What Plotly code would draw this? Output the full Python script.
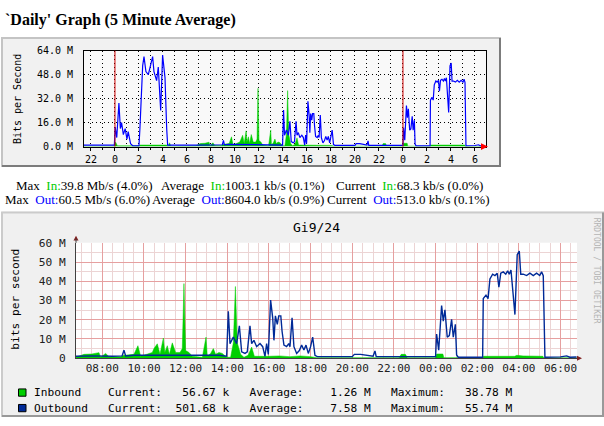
import plotly.graph_objects as go

W, H = 604, 426

# traffic samples; hours counted from midnight of the first day (24 = 00:00 next day)
out_hours = [21.42, 23.95, 24.02, 24.15, 24.33, 24.45, 24.55, 24.7, 24.85, 25.0, 25.1, 25.3, 25.5,
             26.0, 26.08, 26.31, 26.42, 26.58, 26.78, 26.97, 27.14, 27.25, 27.47, 27.61, 27.81,
             27.97, 28.17, 28.31, 28.39, 29.0, 29.5, 30.0, 30.72, 31.5, 32.5, 32.95, 33.04, 33.12,
             33.52, 33.84, 34.5, 35.5, 36.3, 37.0, 37.6, 37.97, 38.05, 38.13, 38.29, 38.45, 38.58,
             38.69, 38.85, 38.96, 39.09, 39.17, 39.28, 39.41, 39.57, 39.70, 39.81, 39.89, 39.97,
             40.08, 40.18, 40.24, 40.31, 40.40, 40.47, 40.57, 40.63, 40.72, 40.85, 40.95, 41.01,
             41.11, 41.20, 41.33, 41.46, 41.57, 41.68, 41.78, 41.89, 42.00, 42.10, 42.21, 42.32,
             44.0, 44.1, 44.4, 44.7, 45.0, 45.09, 45.15, 48.0, 48.05, 48.15, 48.29, 48.37, 48.45,
             48.56, 48.66, 48.77, 48.85, 48.95, 49.01, 49.09, 50.26, 50.29, 50.42, 50.52, 50.61,
             50.74, 50.85, 50.96, 51.04, 51.13, 51.25, 51.37, 51.46, 51.54, 51.62, 51.70, 51.81,
             51.92, 52.02, 52.09, 52.21, 52.37, 52.53, 52.69, 52.85, 53.00, 53.09, 53.17, 53.25,
             54.0, 54.29, 54.45, 54.77]
out_mbps = [1.0, 1.0, 13, 6, 29, 12, 16, 8, 12, 5, 10, 2, 0.5,
            0.5, 12, 54, 60, 50, 48, 55, 60, 50, 44, 53, 24,
            61, 46, 12, 1, 1, 1.2, 1, 1.0, 1.2, 1.0, 1.2, 4.2, 1.2,
            1.5, 1.5, 1.2, 1.5, 1.5, 1.5, 1.5, 1.0, 24.4, 7.6, 11, 7.6, 16.8,
            3.3, 2.5, 3.3, 16.8, 7.6, 9.3, 6, 7.6, 6, 1, 7.6, 2,
            30.2, 21, 9.3, 22, 17.6, 22, 22, 14, 6.8, 6, 7.6, 6,
            21, 6, 2.5, 4, 6.8, 4.3, 6.8, 2.5, 6, 11, 1.5, 0.8,
            0.8, 2, 2, 1.5, 1, 3.8, 0.8, 0.8, 12.6, 4.2, 27.4, 19.3, 25.2,
            10.9, 11.8, 20.2, 10.9, 17.6, 1.7, 0.5, 0.5, 31, 32.8, 31, 41.2,
            43.7, 43, 44.2, 37, 44.2, 44.9, 43.7, 45.4, 43.7, 45.9, 36.1, 22.7,
            53.8, 55.7, 43.7, 43.7, 43, 44.2, 43, 44.2, 43, 44.9, 42.9, 0.5,
            0.7, 1.2, 0.5, 0.6]

in_hours = [21.42, 23.9, 24.05, 24.2, 26.0, 26.1, 28.3, 28.45, 28.55, 28.65, 30.72, 31.12, 31.5,
            31.84, 31.92, 32.16, 32.32, 32.88, 33.04, 33.52, 33.71, 33.84, 34.40, 34.48, 34.64,
            34.77, 34.93, 35.00, 35.12, 35.22, 35.36, 35.52, 35.73, 35.84, 35.92, 36.00, 36.16,
            36.32, 36.80, 36.98, 37.04, 37.20, 37.33, 37.44, 37.60, 37.76, 37.97, 38.16, 38.29,
            38.39, 38.48, 38.64, 38.80, 39.0, 39.17, 39.3, 40.0, 40.5, 41.0, 41.5, 42.0, 42.3,
            46.25, 46.35, 46.55, 46.65, 48.0, 48.05, 48.35, 48.4, 50.28, 50.3, 51.8, 51.9, 52.2,
            53.15, 53.2, 54.77]
in_mbps = [0.3, 0.3, 3, 0.5, 0.5, 1.0, 1.0, 0.3, 2.5, 0.3, 0.5, 2, 2.2,
           2.9, 0.5, 2.5, 0.8, 0.8, 1.5, 2, 6.5, 1, 3, 5, 7.5,
           2, 10.5, 3, 6.5, 2, 8, 3, 3, 5, 38.8, 4, 3,
           1, 0.5, 11, 1, 2.5, 5, 2, 3, 2.5, 0.5, 0.5, 8,
           37.3, 8, 2, 0.5, 1.5, 5.8, 1, 1, 1.2, 0.8, 1.2, 0.8, 0.3,
           0.3, 2, 2, 0.3, 0.3, 2.2, 2.2, 0.3, 0.3, 1.0, 1.0, 1.5, 1.2,
           1.0, 0.2, 0.2]

# MRTG (top) axes
mrtg_ticks = list(range(22, 55, 2))
mrtg_hours = list(range(22, 55))
mrtg_yticks = [0, 16, 32, 48, 64]
midnights = [24, 48]
# RRDtool (bottom) axes
rrd_ticks = list(range(32, 55, 2))
rrd_halfhours = [h / 2 for h in range(62, 110)]
rrd_yticks = [0, 10, 20, 30, 40, 50, 60]
rrd_yminor = [5, 15, 25, 35, 45, 55]

# legend numbers
mrtg_in = ["39.8 Mb/s (4.0%)", "1003.1 kb/s (0.1%)", "68.3 kb/s (0.0%)"]
mrtg_out = ["60.5 Mb/s (6.0%)", "8604.0 kb/s (0.9%)", "513.0 kb/s (0.1%)"]
rrd_in = [(56.67, "k"), (1.26, "M"), (38.78, "M")]
rrd_out = [(501.68, "k"), (7.58, "M"), (55.74, "M")]

MONO = "DejaVu Sans Mono"
SERIF = "Liberation Serif"
DOTS = "1px,3px"


def px(x):
    return x / W


def py(y):
    return 1 - y / H


fig = go.Figure()
fig.add_trace(go.Scatter(x=in_hours, y=in_mbps, xaxis="x", yaxis="y", mode="lines",
                         fill="tozeroy", fillcolor="#00cc00",
                         line=dict(color="#00cc00", width=0.5)))
fig.add_trace(go.Scatter(x=out_hours, y=out_mbps, xaxis="x", yaxis="y", mode="lines",
                         line=dict(color="#0000ff", width=1.2)))
fig.add_trace(go.Scatter(x=in_hours, y=in_mbps, xaxis="x2", yaxis="y2", mode="lines",
                         fill="tozeroy", fillcolor="#00cf00",
                         line=dict(color="#00cf00", width=0.5)))
fig.add_trace(go.Scatter(x=out_hours, y=out_mbps, xaxis="x2", yaxis="y2", mode="lines",
                         line=dict(color="#002a97", width=1.4)))

shapes = [
    # MRTG box
    dict(type="rect", xref="paper", yref="paper", x0=px(2), x1=px(501), y0=py(166), y1=py(32),
         fillcolor="#f1f1f1", line=dict(width=0), layer="below"),
    dict(type="path", xref="paper", yref="paper", layer="below", line=dict(color="#c4c4c4", width=2),
         path=f"M{px(2)},{py(166)} L{px(2)},{py(33)} L{px(501)},{py(33)}"),
    dict(type="path", xref="paper", yref="paper", layer="below", line=dict(color="#7c7c7c", width=2),
         path=f"M{px(500)},{py(33)} L{px(500)},{py(165)} L{px(2)},{py(165)}"),
    dict(type="rect", xref="paper", yref="paper", x0=px(84), x1=px(486), y0=py(145), y1=py(46),
         fillcolor="#f9f9f9", line=dict(width=0), layer="below"),
    # RRD box
    dict(type="rect", xref="paper", yref="paper", x0=px(2), x1=px(604), y0=py(424), y1=py(212),
         fillcolor="#f0f0f0", line=dict(width=0), layer="below"),
    dict(type="path", xref="paper", yref="paper", layer="below", line=dict(color="#cbcbcb", width=2),
         path=f"M{px(2)},{py(424)} L{px(2)},{py(213)} L{px(604)},{py(213)}"),
    dict(type="path", xref="paper", yref="paper", layer="below", line=dict(color="#999999", width=2),
         path=f"M{px(603)},{py(213)} L{px(603)},{py(423)} L{px(2)},{py(423)}"),
    dict(type="rect", xref="paper", yref="paper", x0=px(76), x1=px(577), y0=py(363.3), y1=py(244.3),
         fillcolor="#ffffff", line=dict(width=0), layer="below"),
    # axis arrows
    dict(type="path", xref="paper", yref="paper", fillcolor="#ff0000", line=dict(width=0),
         path=f"M{px(481)},{py(141.5)} L{px(488)},{py(145)} L{px(481)},{py(148.5)} Z"),
    dict(type="path", xref="paper", yref="paper", fillcolor="#802020", line=dict(width=0),
         path=f"M{px(577)},{py(360.8)} L{px(582)},{py(363.3)} L{px(577)},{py(365.8)} Z"),
    dict(type="path", xref="paper", yref="paper", fillcolor="#802020", line=dict(width=0),
         path=f"M{px(73.5)},{py(242)} L{px(76)},{py(237)} L{px(78.5)},{py(242)} Z"),
    dict(type="line", xref="paper", yref="paper", x0=px(76), x1=px(76), y0=py(244.3), y1=py(240),
         line=dict(color="#404040", width=1)),
    # legend squares
    dict(type="rect", xref="paper", yref="paper", x0=px(18.5), x1=px(26), y0=py(402.5), y1=py(395),
         fillcolor="#00cf00", line=dict(color="#000000", width=1)),
    dict(type="rect", xref="paper", yref="paper", x0=px(18.5), x1=px(26), y0=py(418.5), y1=py(411),
         fillcolor="#002a97", line=dict(color="#000000", width=1)),
]
for m in midnights:
    shapes.append(dict(type="line", xref="x", yref="y domain", x0=m, x1=m, y0=0, y1=1,
                       line=dict(color="#cc0000", width=1)))

annotations = [
    dict(text="<b>`Daily' Graph (5 Minute Average)</b>", x=px(3), y=py(14), xanchor="left",
         font=dict(family=SERIF, size=16, color="#000000")),
    dict(text="Bits per Second", x=px(17), y=py(96), textangle=-90,
         font=dict(family=MONO, size=10, color="#000000")),
    dict(text="Gi9/24", x=px(316), y=py(228), font=dict(family=MONO, size=13, color="#000000")),
    dict(text="bits per second", x=px(16), y=py(303), textangle=-90,
         font=dict(family=MONO, size=11.2, color="#000000")),
    dict(text="RRDTOOL / TOBI OETIKER", x=px(596), y=py(273), textangle=90,
         font=dict(family=MONO, size=8, color="#b4b4b4")),
]

cells = ["Max", "Average", "Current"]
in_x = [13.5, 158.5, 334]
out_x = [3, 150, 325]
nb = "\u00a0"
for i, c in enumerate(cells):
    annotations.append(dict(text=f"{c}{nb}{nb}<span style='color:#00cc00'>In:</span>{mrtg_in[i]}",
                            x=px(in_x[i]), y=py(185), xanchor="left",
                            font=dict(family=SERIF, size=13, color="#000000")))
    annotations.append(dict(text=f"{c}{nb}{nb}<span style='color:#0000ff'>Out:</span>{mrtg_out[i]}",
                            x=px(out_x[i]), y=py(200), xanchor="left",
                            font=dict(family=SERIF, size=13, color="#000000")))


def rrd_row(name, stats):
    s = name.ljust(11)
    labels = ["Current:", "Average:", "Maximum:"]
    parts = [f"{labels[k]}{v:8.2f} {u}" for k, (v, u) in enumerate(stats)]
    s += "   ".join(parts)
    return s.replace(" ", nb)


annotations.append(dict(text=rrd_row("Inbound", rrd_in), x=px(32.3), y=py(399), xanchor="left",
                        font=dict(family=MONO, size=11.2, color="#000000")))
annotations.append(dict(text=rrd_row("Outbound", rrd_out), x=px(32.3), y=py(415), xanchor="left",
                        font=dict(family=MONO, size=11.2, color="#000000")))

for a in annotations:
    a.update(xref="paper", yref="paper", showarrow=False)
    a.setdefault("xanchor", "center")
    a.setdefault("yanchor", "middle")

fig.update_layout(
    width=W, height=H, margin=dict(l=0, r=0, t=0, b=0),
    paper_bgcolor="#ffffff", plot_bgcolor="rgba(0,0,0,0)", showlegend=False,
    shapes=shapes, annotations=annotations,
    xaxis=dict(domain=[px(84), px(486)], range=[21.42, 54.92], anchor="y",
               tickmode="array", tickvals=mrtg_ticks, ticktext=[str(h % 24) for h in mrtg_ticks],
               showgrid=True, gridcolor="#000000", griddash=DOTS, gridwidth=1,
               minor=dict(tickmode="array", tickvals=mrtg_hours, showgrid=True, gridcolor="#000000",
                          griddash=DOTS, ticks="outside", ticklen=2, tickcolor="#000000"),
               ticks="outside", ticklen=3, tickcolor="#000000",
               showline=True, linecolor="#000000", linewidth=1, mirror=True, zeroline=False,
               tickfont=dict(family=MONO, size=10, color="#000000")),
    yaxis=dict(domain=[py(145), py(46)], range=[0, 64], anchor="x",
               tickmode="array", tickvals=mrtg_yticks, ticktext=[f"{v:.1f} M" for v in mrtg_yticks],
               showgrid=True, gridcolor="#000000", griddash=DOTS, gridwidth=1,
               ticks="", ticklabelstandoff=8,
               showline=True, linecolor="#000000", linewidth=1, mirror=True, zeroline=False,
               tickfont=dict(family=MONO, size=10, color="#000000")),
    xaxis2=dict(domain=[px(76), px(577)], range=[30.737, 54.79], anchor="y2",
                tickmode="array", tickvals=rrd_ticks,
                ticktext=[f"{h % 24:02d}:00" for h in rrd_ticks],
                showgrid=True, gridcolor="#e6a0a0", gridwidth=1,
                minor=dict(tickmode="array", tickvals=rrd_halfhours, showgrid=True,
                           gridcolor="#ecd4d4", gridwidth=1),
                ticks="", showline=True, linecolor="#404040", linewidth=1, zeroline=False,
                tickfont=dict(family=MONO, size=11, color="#202020")),
    yaxis2=dict(domain=[py(363.3), py(244.3)], range=[0, 60], anchor="x2",
                tickmode="array", tickvals=rrd_yticks,
                ticktext=["0" if v == 0 else f"{v} M" for v in rrd_yticks],
                showgrid=True, gridcolor="#e6a0a0", gridwidth=1,
                minor=dict(tickmode="array", tickvals=rrd_yminor, showgrid=True,
                           gridcolor="#ecd4d4", gridwidth=1),
                ticks="", ticklabelstandoff=7,
                showline=True, linecolor="#404040", linewidth=1, zeroline=False,
                tickfont=dict(family=MONO, size=11.2, color="#202020")),
)

# the page's default body margin would push the figure 8px off the window
fig.write_html("out.html", config={"displayModeBar": False},
               post_script="document.body.style.margin='0';")
